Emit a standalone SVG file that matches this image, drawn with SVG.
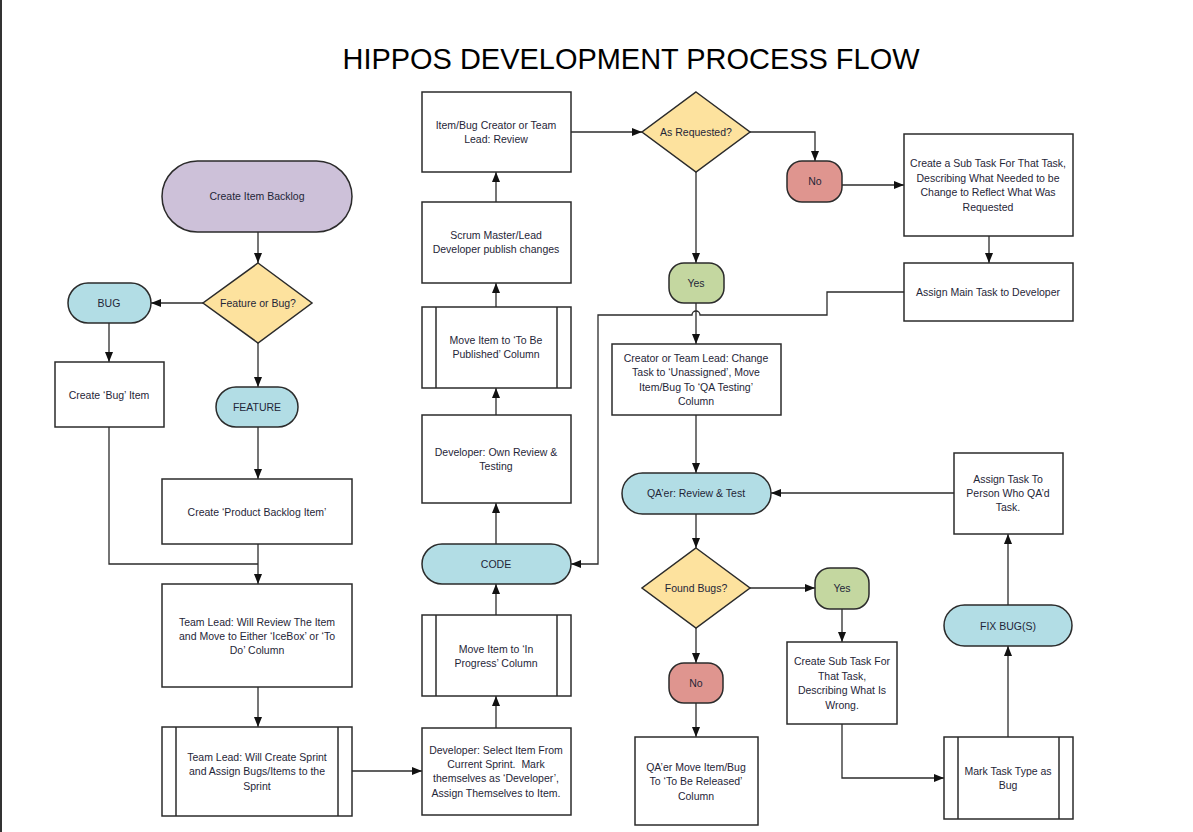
<svg xmlns="http://www.w3.org/2000/svg" width="1193" height="832" viewBox="0 0 1193 832">
<defs>
<marker id="ah" viewBox="0 0 10 8" refX="10" refY="4" markerWidth="10" markerHeight="8" markerUnits="userSpaceOnUse" orient="auto"><path d="M0,0 L10,4 L0,8 z" fill="#111"/></marker>
</defs>
<style>
.s{stroke:#2b2b2b;stroke-width:1.5}
.box{fill:#fff}
.term{fill:#b2dde5}
.start{fill:#cdc1d9}
.dec{fill:#fde29e}
.yes{fill:#c4d7a0}
.no{fill:#df958f}
.t{font-family:"Liberation Sans",Arial,sans-serif;font-size:10.5px;fill:#1f2638;text-anchor:middle}
.c path{fill:none;stroke:#2b2b2b;stroke-width:1.3}
.a{marker-end:url(#ah)}
</style>
<rect width="1193" height="832" fill="#fff"/>
<line x1="1" y1="0" x2="1" y2="832" stroke="#333" stroke-width="2"/>
<text x="631" y="69" font-family="'Liberation Sans',Arial,sans-serif" font-size="30" text-anchor="middle" fill="#000" textLength="577" lengthAdjust="spacingAndGlyphs">HIPPOS DEVELOPMENT PROCESS FLOW</text>

<g class="c" id="connectors">
<path class="a" d="M258,232 V263"/>
<path class="a" d="M203,303 H151"/>
<path class="a" d="M258,343 V387"/>
<path class="a" d="M109,323 V362"/>
<path class="a" d="M258,427 V479"/>
<path d="M109,427 V564 H258"/>
<path class="a" d="M258,544 V584"/>
<path class="a" d="M258,687 V727"/>
<path class="a" d="M352,771 H422"/>
<path class="a" d="M496,728 V696"/>
<path class="a" d="M496,615 V584"/>
<path class="a" d="M496,544 V503"/>
<path class="a" d="M496,415 V388"/>
<path class="a" d="M496,307 V283"/>
<path class="a" d="M496,202 V172"/>
<path class="a" d="M571,132 H642"/>
<path class="a" d="M750,132 H815 V161"/>
<path class="a" d="M842,185 H904"/>
<path class="a" d="M989,236 V263"/>
<path class="a" d="M904,292 H827 V315 H700 A4,4 0 0 0 692,315 H598 V564 H571"/>
<path class="a" d="M696,172 V263"/>
<path class="a" d="M696,303 V344"/>
<path class="a" d="M696,415 V473"/>
<path class="a" d="M954,493 H771"/>
<path class="a" d="M696,514 V548"/>
<path class="a" d="M750,588 H815"/>
<path class="a" d="M842,609 V642"/>
<path class="a" d="M842,724 V778 H944"/>
<path class="a" d="M1008,737 V646"/>
<path class="a" d="M1008,605 V534"/>
<path class="a" d="M696,628 V663"/>
<path class="a" d="M696,703 V737"/>
</g>

<g id="n-create-backlog"><rect class="s start" x="162" y="161" width="190" height="71" rx="35.5"/><text class="t" x="257" y="200">Create Item Backlog</text></g>
<g id="n-feature-or-bug"><polygon class="s dec" points="258,263 312,303 258,343 203,303"/><text class="t" x="258" y="307">Feature or Bug?</text></g>
<g id="n-bug"><rect class="s term" x="68" y="283" width="83" height="40" rx="20"/><text class="t" x="109" y="307">BUG</text></g>
<g id="n-create-bug"><rect class="s box" x="55" y="362" width="109" height="65"/><text class="t" x="109" y="399">Create ‘Bug’ Item</text></g>
<g id="n-feature"><rect class="s term" x="216" y="387" width="82" height="40" rx="20"/><text class="t" x="257" y="411">FEATURE</text></g>
<g id="n-create-pbi"><rect class="s box" x="162" y="479" width="190" height="65"/><text class="t" x="257" y="516">Create ‘Product Backlog Item’</text></g>
<g id="n-tl-review"><rect class="s box" x="162" y="584" width="190" height="103"/><text class="t" x="257" y="626">Team Lead: Will Review The Item</text><text class="t" x="257" y="640">and Move to Either ‘IceBox’ or ‘To</text><text class="t" x="257" y="654">Do’ Column</text></g>
<g id="n-tl-sprint"><rect class="s box" x="162" y="727" width="190" height="89"/><line class="s" x1="176" y1="727" x2="176" y2="816"/><line class="s" x1="338" y1="727" x2="338" y2="816"/><text class="t" x="257" y="761">Team Lead: Will Create Sprint</text><text class="t" x="257" y="775">and Assign Bugs/Items to the</text><text class="t" x="257" y="790">Sprint</text></g>
<g id="n-dev-select"><rect class="s box" x="422" y="728" width="149" height="87"/><text class="t" x="496" y="754">Developer: Select Item From</text><text class="t" x="496" y="768">Current Sprint.&#160; Mark</text><text class="t" x="496" y="782">themselves as ‘Developer’,</text><text class="t" x="496" y="797">Assign Themselves to Item.</text></g>
<g id="n-in-progress"><rect class="s box" x="422" y="615" width="149" height="81"/><line class="s" x1="436" y1="615" x2="436" y2="696"/><line class="s" x1="557" y1="615" x2="557" y2="696"/><text class="t" x="496" y="653">Move Item to ‘In</text><text class="t" x="496" y="667">Progress’ Column</text></g>
<g id="n-code"><rect class="s term" x="422" y="544" width="149" height="40" rx="20"/><text class="t" x="496" y="568">CODE</text></g>
<g id="n-dev-review"><rect class="s box" x="422" y="415" width="149" height="88"/><text class="t" x="496" y="456">Developer: Own Review &amp;</text><text class="t" x="496" y="470">Testing</text></g>
<g id="n-to-be-published"><rect class="s box" x="422" y="307" width="149" height="81"/><line class="s" x1="436" y1="307" x2="436" y2="388"/><line class="s" x1="557" y1="307" x2="557" y2="388"/><text class="t" x="496" y="344">Move Item to ‘To Be</text><text class="t" x="496" y="358">Published’ Column</text></g>
<g id="n-publish"><rect class="s box" x="422" y="202" width="149" height="81"/><text class="t" x="496" y="239">Scrum Master/Lead</text><text class="t" x="496" y="253">Developer publish changes</text></g>
<g id="n-creator-review"><rect class="s box" x="422" y="92" width="149" height="80"/><text class="t" x="496" y="129">Item/Bug Creator or Team</text><text class="t" x="496" y="143">Lead: Review</text></g>
<g id="n-as-requested"><polygon class="s dec" points="696,92 750,132 696,172 642,132"/><text class="t" x="696" y="136">As Requested?</text></g>
<g id="n-no1"><rect class="s no" x="787" y="161" width="55" height="41" rx="15"/><text class="t" x="815" y="185">No</text></g>
<g id="n-subtask1"><rect class="s box" x="904" y="134" width="169" height="102"/><text class="t" x="988" y="167">Create a Sub Task For That Task,</text><text class="t" x="988" y="182">Describing What Needed to be</text><text class="t" x="988" y="196">Change to Reflect What Was</text><text class="t" x="988" y="211">Requested</text></g>
<g id="n-assign-main"><rect class="s box" x="904" y="263" width="169" height="58"/><text class="t" x="988" y="296">Assign Main Task to Developer</text></g>
<g id="n-yes1"><rect class="s yes" x="669" y="263" width="55" height="40" rx="15"/><text class="t" x="696" y="287">Yes</text></g>
<g id="n-creator-change"><rect class="s box" x="612" y="344" width="169" height="71"/><text class="t" x="696" y="362">Creator or Team Lead: Change</text><text class="t" x="696" y="376">Task to ‘Unassigned’, Move</text><text class="t" x="696" y="391">Item/Bug To ‘QA Testing’</text><text class="t" x="696" y="405">Column</text></g>
<g id="n-qa-review"><rect class="s term" x="622" y="473" width="149" height="41" rx="20.5"/><text class="t" x="696" y="497">QA’er: Review &amp; Test</text></g>
<g id="n-assign-qa"><rect class="s box" x="954" y="453" width="109" height="81"/><text class="t" x="1008" y="483">Assign Task To</text><text class="t" x="1008" y="497">Person Who QA’d</text><text class="t" x="1008" y="511">Task.</text></g>
<g id="n-found-bugs"><polygon class="s dec" points="696,548 750,588 696,628 642,588"/><text class="t" x="696" y="592">Found Bugs?</text></g>
<g id="n-yes2"><rect class="s yes" x="815" y="568" width="54" height="41" rx="15"/><text class="t" x="842" y="592">Yes</text></g>
<g id="n-subtask2"><rect class="s box" x="787" y="642" width="110" height="82"/><text class="t" x="842" y="665">Create Sub Task For</text><text class="t" x="842" y="680">That Task,</text><text class="t" x="842" y="694">Describing What Is</text><text class="t" x="842" y="709">Wrong.</text></g>
<g id="n-mark-bug"><rect class="s box" x="944" y="737" width="129" height="82"/><line class="s" x1="958" y1="737" x2="958" y2="819"/><line class="s" x1="1059" y1="737" x2="1059" y2="819"/><text class="t" x="1008" y="775">Mark Task Type as</text><text class="t" x="1008" y="789">Bug</text></g>
<g id="n-fix-bugs"><rect class="s term" x="944" y="605" width="128" height="41" rx="20.5"/><text class="t" x="1008" y="630">FIX BUG(S)</text></g>
<g id="n-no2"><rect class="s no" x="669" y="663" width="54" height="40" rx="15"/><text class="t" x="696" y="687">No</text></g>
<g id="n-qa-move"><rect class="s box" x="635" y="737" width="123" height="88"/><text class="t" x="696" y="771">QA’er Move Item/Bug</text><text class="t" x="696" y="785">To ‘To Be Released’</text><text class="t" x="696" y="800">Column</text></g>
</svg>
